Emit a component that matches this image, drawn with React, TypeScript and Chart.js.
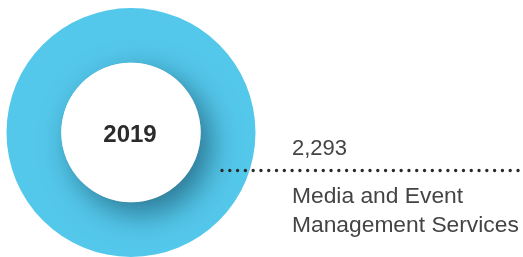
import React, { useEffect, useRef } from "react";
import { Chart, registerables } from "chart.js";

Chart.register(...registerables);

const categories = ["Media and Event Management Services"];
const values = [2293];
const yearLabel = "2019";
const valueLabels = ["2,293"];
const labelLines = [["Media and Event", "Management Services"]];

const RING = "#54C8EB";

const annotate = {
  id: "annotate",
  afterDatasetsDraw(chart: any) {
    const ctx = chart.ctx as CanvasRenderingContext2D;
    const arc = chart.getDatasetMeta(0).data[0] as any;
    if (!arc) return;
    const { x, y, innerRadius, outerRadius } = arc.getProps(["x", "y", "innerRadius", "outerRadius"], true);
    // inner disc with shadow
    ctx.save();
    ctx.beginPath();
    ctx.arc(x, y, outerRadius, 0, Math.PI * 2);
    ctx.clip();
    ctx.shadowColor = "rgba(0,35,55,0.5)";
    ctx.shadowBlur = 30;
    ctx.shadowOffsetX = 10;
    ctx.shadowOffsetY = 11;
    ctx.beginPath();
    ctx.arc(x, y, innerRadius, 0, Math.PI * 2);
    ctx.fillStyle = "#ffffff";
    ctx.fill();
    ctx.restore();

    // center year
    ctx.save();
    ctx.font = "bold 24px 'Liberation Sans', Arial, sans-serif";
    ctx.fillStyle = "#2b2b2b";
    ctx.textAlign = "center";
    ctx.textBaseline = "alphabetic";
    ctx.fillText(yearLabel, x - 1, y + 9);
    ctx.restore();

    // dotted leader
    const ly = y + 38;
    const startX = x + 91;
    const endX = chart.width - 5;
    ctx.save();
    ctx.strokeStyle = "#2a2a2a";
    ctx.lineWidth = 3.4;
    ctx.lineCap = "round";
    const n = Math.round((endX - startX) / 7.8);
    const step = (endX - startX) / n;
    ctx.setLineDash([0, step]);
    ctx.beginPath();
    ctx.moveTo(startX, ly);
    ctx.lineTo(endX + 0.5, ly);
    ctx.stroke();
    ctx.restore();

    // labels
    ctx.save();
    ctx.fillStyle = "#444444";
    ctx.textAlign = "left";
    ctx.textBaseline = "alphabetic";
    const tx = x + 161;
    ctx.font = "22px 'Liberation Sans', Arial, sans-serif";
    ctx.fillText(valueLabels[0], tx, ly - 16);
    ctx.font = "22.8px 'Liberation Sans', Arial, sans-serif";
    labelLines[0].forEach((line, i) => {
      ctx.fillText(line, tx, ly + 32 + i * 29);
    });
    ctx.restore();
  },
};

export default function App() {
  const ref = useRef<HTMLCanvasElement | null>(null);
  useEffect(() => {
    document.body.style.margin = "0";
    const chart = new Chart(ref.current!, {
      type: "doughnut",
      data: {
        labels: categories,
        datasets: [
          {
            data: values,
            backgroundColor: [RING],
            borderWidth: 0,
          },
        ],
      },
      options: {
        responsive: false,
        animation: false,
        cutout: "56%",
        layout: { padding: { left: 6, top: 8, right: 267, bottom: 0 } },
        plugins: {
          legend: { display: false },
          tooltip: { enabled: false },
        },
      },
      plugins: [annotate],
    });
    return () => chart.destroy();
  }, []);
  return (
    <div style={{ position: "absolute", left: 0, top: 0, width: 523, height: 257 }}>
      <canvas ref={ref} width={523} height={257} style={{ display: "block" }} />
    </div>
  );
}
